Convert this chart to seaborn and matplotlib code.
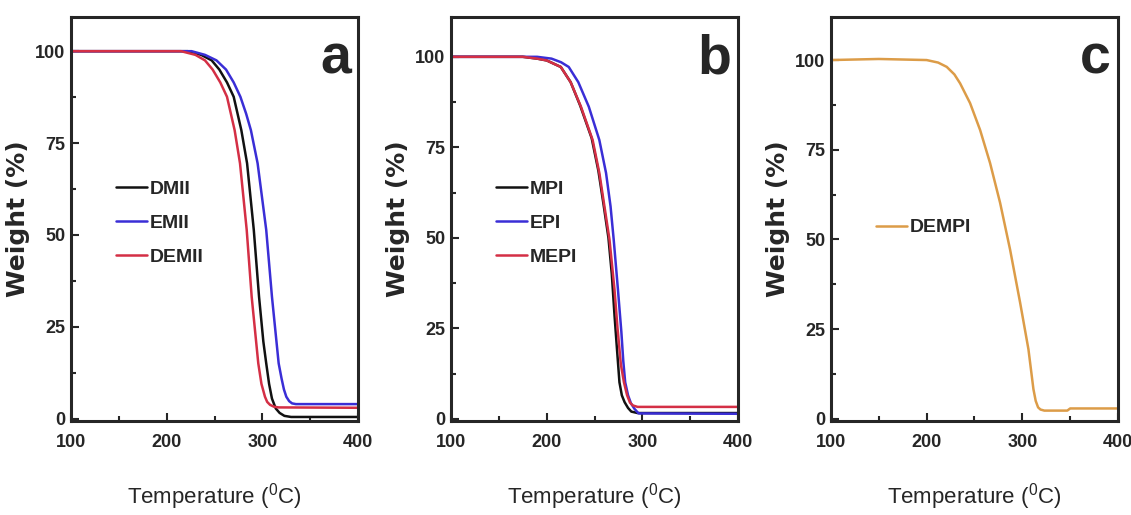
import numpy as np
import pandas as pd
import matplotlib
matplotlib.use('Agg')
import matplotlib.pyplot as plt
import seaborn as sns

# ---- data (temperature in C, weight in %) ----
# panel a
dmii_t = [100, 222, 236, 247, 255, 263, 270, 278, 284, 291, 296.5, 301, 304, 307, 310,
          314, 318, 323, 330, 400]
dmii_w = [100, 100, 99, 97.5, 95, 91.5, 87.6, 78.5, 69.5, 51.4, 33.2, 21, 15.1, 9.5, 5.5,
          2.8, 1.6, 0.8, 0.5, 0.5]
emii_t = [100, 226, 240, 252, 262, 270, 277, 283, 288, 295, 304, 310, 317, 320, 322.5,
          325, 328, 331, 335, 400]
emii_w = [100, 100, 99, 97.5, 95, 91.5, 87.6, 83, 78.5, 69.5, 51.4, 33.2, 15.1, 11, 8,
          6, 4.8, 4.2, 4, 4]
demii_t = [100, 215, 230, 240, 248, 256, 263, 271, 276.6, 283.6, 288.8, 295.7, 299,
           302.7, 305, 308, 312, 317, 400]
demii_w = [100, 100, 99, 97.5, 95, 91.5, 87.6, 78.5, 69.5, 51.4, 33.2, 15.1, 9.5,
           6, 4.6, 3.8, 3.3, 3.1, 3]

# panel b
mpi_t = [100, 175, 190, 200, 214.7, 225, 235, 247, 254, 259.5, 264.5, 268, 270.9, 273.5,
         276, 278.5, 281.4, 285, 288.4, 295, 400]
mpi_w = [100, 100, 99.5, 99, 97.2, 93, 86.5, 77.5, 68.5, 59, 50, 40, 28.4, 19,
         10.1, 6.5, 4.6, 3, 2, 1.6, 1.6]
epi_t = [100, 190, 205, 215, 223, 233, 244, 255, 262, 266.7, 270, 274.4, 278, 280,
         282, 285, 288, 291.6, 296, 400]
epi_w = [100, 100, 99.5, 98.5, 97.2, 93, 86.2, 77, 67.9, 58.7, 49.5, 35.8, 24, 16,
         10.1, 6.5, 4.3, 2.8, 1.5, 1.4]
mepi_t = [100, 175, 190, 200, 214.7, 225, 235.8, 248, 255, 260.3, 265.6, 270.8, 274,
          277.5, 280.7, 284, 287, 290, 295, 400]
mepi_w = [100, 100, 99.5, 99, 97.2, 93, 86.2, 77, 67.9, 58.7, 49.5, 35.8, 25,
          15, 10.1, 6.5, 4.5, 3.7, 3.3, 3.3]

# panel c
dempi_t = [100, 150, 200, 212, 221, 229, 235, 245.4, 255.9, 266.3, 276.8, 287.2, 297.7,
           306.4, 311.6, 314, 316.5, 319, 323, 347, 350, 400]
dempi_w = [100, 100.3, 100, 99.3, 98.1, 96, 93.5, 88, 80.5, 71.3, 60.2, 47.2, 32.4,
           19.4, 8.3, 5, 3.2, 2.6, 2.3, 2.3, 2.9, 2.9]

panels = [
    {'names': ['DMII', 'EMII', 'DEMII'],
     'series': [(dmii_t, dmii_w), (emii_t, emii_w), (demii_t, demii_w)],
     'colors': ['#111111', '#3a2ed6', '#d42f45'],
     'letter': 'a', 'ytop': 109.3, 'leg_y': 0.615},
    {'names': ['MPI', 'EPI', 'MEPI'],
     'series': [(mpi_t, mpi_w), (epi_t, epi_w), (mepi_t, mepi_w)],
     'colors': ['#111111', '#3a2ed6', '#d42f45'],
     'letter': 'b', 'ytop': 111, 'leg_y': 0.615},
    {'names': ['DEMPI'],
     'series': [(dempi_t, dempi_w)],
     'colors': ['#dc9c48'],
     'letter': 'c', 'ytop': 112, 'leg_y': 0.52},
]

sns.set_style('ticks')
plt.rcParams['font.family'] = ['Liberation Sans', 'DejaVu Sans']
plt.rcParams['mathtext.default'] = 'regular'
plt.rcParams['axes.linewidth'] = 2.2

fig = plt.figure(figsize=(11.31, 5.15), dpi=100)
lefts = [0.0628, 0.3988, 0.7347]

for left, p in zip(lefts, panels):
    ax = fig.add_axes([left, 0.1825, 0.2538, 0.7845])
    frames = []
    for name, (t, w) in zip(p['names'], p['series']):
        frames.append(pd.DataFrame({'T': t, 'W': w, 'sample': name}))
    df = pd.concat(frames, ignore_index=True)
    sns.lineplot(data=df, x='T', y='W', hue='sample', hue_order=p['names'],
                 palette=p['colors'], sort=False, estimator=None,
                 linewidth=1.8, legend=False, ax=ax)
    for line, name in zip(ax.lines, p['names']):
        line.set_label(name)

    ax.set_xlim(100, 400)
    ax.set_ylim(-0.6, p['ytop'])
    ax.set_xticks([100, 200, 300, 400])
    ax.set_xticks([150, 250, 350], minor=True)
    ax.set_yticks([0, 25, 50, 75, 100])
    ax.set_yticks([12.5, 37.5, 62.5, 87.5], minor=True)
    ax.tick_params(which='both', direction='in', top=False, right=False, width=1.5)
    ax.tick_params(which='major', length=6, labelsize=13)
    ax.tick_params(axis='x', which='major', pad=9)
    ax.tick_params(axis='y', which='major', pad=4)
    ax.tick_params(which='minor', length=3.5)
    for lab in ax.get_xticklabels() + ax.get_yticklabels():
        lab.set_fontweight('bold')
    for s in ax.spines.values():
        s.set_visible(True)
        s.set_linewidth(2.2)

    ax.set_xlabel('Temperature ($^{0}$C)', fontsize=16, labelpad=22)
    ax.set_ylabel('Weight (%)', fontsize=18, fontweight='bold',
                  family=['DejaVu Sans'], labelpad=4)

    ax.text(0.975, 0.96, p['letter'], transform=ax.transAxes, ha='right', va='top',
            fontsize=40, fontweight='bold')

    ax.legend(loc='upper left', bbox_to_anchor=(0.13, p['leg_y']), frameon=False,
              prop={'size': 14, 'weight': 'bold'}, handlelength=1.6,
              handletextpad=0.15, labelspacing=0.85, borderaxespad=0)

fig.savefig('out.png', dpi=100)
